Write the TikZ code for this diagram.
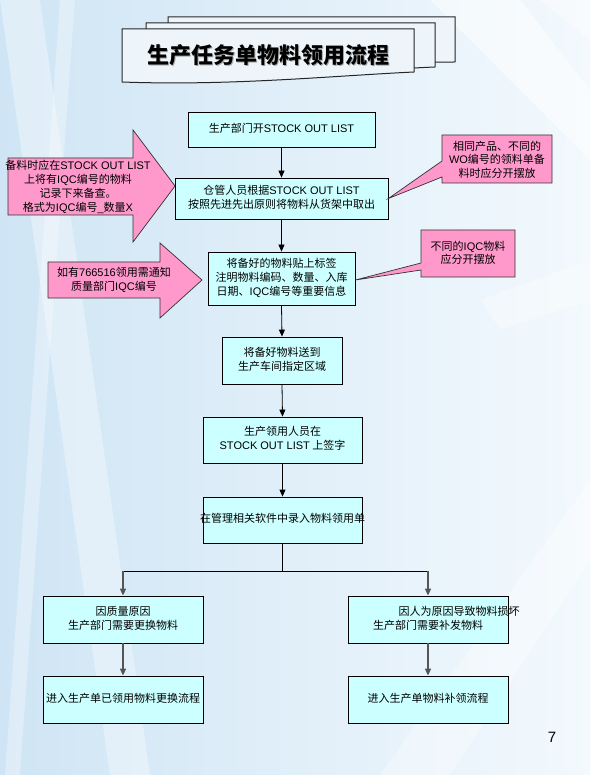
\documentclass[tikz,border=0pt]{standalone}
\usepackage{fontspec}
\setmainfont{Noto Sans CJK SC}
\newfontfamily\en{Liberation Sans}
\usetikzlibrary{arrows.meta}
\definecolor{boxc}{HTML}{CCFFFF}
\definecolor{pinkc}{HTML}{FF99CC}
\definecolor{bgl}{HTML}{CFE5F5}
\definecolor{bgr}{HTML}{F3F9FD}
\definecolor{titlef}{HTML}{EDF5FB}
\definecolor{grayline}{HTML}{555555}
\newcommand\ctext[1]{\makebox[0pt]{\begin{tabular}{@{}c@{}}#1\end{tabular}}}
\tikzset{
  stepbox/.style={draw=black, line width=0.8pt, fill=boxc, inner sep=0pt,
    minimum width=#1, font=\fontsize{11}{14}\selectfont},
  callout/.style={draw=black!80, line width=0.7pt, fill=pinkc},
  ctxt/.style={inner sep=0pt, align=center, font=\fontsize{11}{14}\selectfont},
  blackarrow/.style={draw=black, line width=0.8pt, -{Triangle[length=7pt,width=6pt]}},
  grayarrow/.style={draw=grayline, line width=1.4pt, -{Triangle[length=7pt,width=6pt]}},
  plainline/.style={draw=black, line width=0.8pt},
  titlebox/.style={draw=black!85, line width=1pt, fill=titlef}
}
\begin{document}
\begin{tikzpicture}[x=1pt,y=-1pt]
\useasboundingbox (0,0) rectangle (590,775);
% background
\shade[left color=bgl, right color=bgr] (0,0) rectangle (590,775);
\fill[white, opacity=0.35] (0,0) -- (40,0) -- (150,775) -- (110,775) -- cycle;
\fill[white, opacity=0.3] (60,0) -- (75,0) -- (20,775) -- (5,775) -- cycle;
\fill[white, opacity=0.5] (430,0) -- (520,0) -- (590,90) -- (590,160) -- cycle;
\fill[white, opacity=0.4] (540,0) -- (590,0) -- (590,40) -- cycle;
\fill[white, opacity=0.35] (380,775) -- (590,480) -- (590,560) -- (450,775) -- cycle;
\fill[white, opacity=0.3] (480,300) -- (590,260) -- (590,300) -- (500,330) -- cycle;

% title stack
\path[titlebox] (168,17) -- (455,17) -- (455,62) .. controls (380,62) and (250,75) .. (168,70) -- cycle;
\path[titlebox] (146,23) -- (435,23) -- (435,67) .. controls (360,70) and (250,82) .. (146,76) -- cycle;
\path[titlebox] (122,29) -- (414,29) -- (414,72) .. controls (330,76) and (230,86) .. (122,82) -- cycle;
\node[text=black!35, font=\fontsize{22}{26}\selectfont\bfseries] at (269.5,56.5) {生产任务单物料领用流程};
\node (title) [font=\fontsize{22}{26}\selectfont\bfseries] at (268,55) {生产任务单物料领用流程};

% main boxes
\node (b1) [stepbox=187pt, minimum height=35pt] at (281.5,129.5) {\ctext{生产部门开{\en STOCK OUT LIST}}};
\node (b2) [stepbox=213pt, minimum height=41pt] at (281.5,198.5) {\ctext{仓管人员根据{\en STOCK OUT LIST}\\按照先进先出原则将物料从货架中取出}};
\node (b3) [stepbox=147pt, minimum height=53pt] at (281.5,278.5) {\ctext{将备好的物料贴上标签\\注明物料编码、数量、入库\\日期、{\en IQC}编号等重要信息}};
\node (b4) [stepbox=120pt, minimum height=47pt] at (282,360.5) {\ctext{将备好物料送到\\生产车间指定区域}};
\node (b5) [stepbox=159pt, minimum height=46pt] at (282.5,440) {\ctext{生产领用人员在\\{\en STOCK OUT LIST} 上签字}};
\node (b6) [stepbox=159pt, minimum height=46pt] at (282.5,520) {\ctext{在管理相关软件中录入物料领用单}};
\node (b7) [stepbox=160pt, minimum height=47pt] at (123,619.5) {\ctext{因质量原因\\生产部门需要更换物料}};
\node (b8) [stepbox=160pt, minimum height=47pt] at (428,619.5) {\ctext{\hspace*{62pt}因人为原因导致物料损坏\\生产部门需要补发物料}};
\node (b9) [stepbox=160pt, minimum height=47pt] at (123,699.5) {\ctext{进入生产单已领用物料更换流程}};
\node (b10) [stepbox=160pt, minimum height=47pt] at (428,699.5) {\ctext{进入生产单物料补领流程}};

% connectors
\draw[blackarrow] (b1.south) -- (b2.north);
\draw[blackarrow] (b2.south) -- (b3.north);
\draw[blackarrow] (b3.south) -- (b4.north);
\draw[blackarrow] (b4.south) -- (b5.north);
\draw[blackarrow] (b5.south) -- (b6.north);
\coordinate (split) at (282.5,571);
\coordinate (sl) at (b7.north |- split);
\coordinate (sr) at (b8.north |- split);
\draw[plainline] (b6.south) -- (split);
\draw[plainline] (sl) -- (sr);
\draw[grayarrow] (sl) -- (b7.north);
\draw[grayarrow] (sr) -- (b8.north);
\draw[grayarrow] (b7.south) -- (b9.north);
\draw[grayarrow] (b8.south) -- (b10.north);

% left block arrows
\path[callout] (8,158) -- (133,158) -- (133,130) -- (175,186) -- (133,242) -- (133,215) -- (8,215) -- cycle;
\node (n1) [ctxt] at (78,186.5) {\makebox[0pt]{备料时应在{\en STOCK OUT LIST}}\\上将有{\en IQC}编号的物料\\记录下来备查。\\格式为{\en IQC}编号{\en \_}数量{\en X}};
\path[callout] (48,262) -- (160,262) -- (160,243) -- (202,280) -- (160,318) -- (160,298) -- (48,298) -- cycle;
\node (n2) [ctxt] at (114,280) {如有{\en 766516}领用需通知\\质量部门{\en IQC}编号};

% right callouts
\path[callout] (442,135) -- (552,135) -- (552,183) -- (442,183) -- (442,177) -- (b2.east) -- (442,161) -- cycle;
\node (n3) [ctxt, font=\fontsize{11}{13.5}\selectfont] at (497,159.5) {相同产品、不同的\\{\en WO}编号的领料单备\\料时应分开摆放};
\path[callout] (421,230) -- (515,230) -- (515,277) -- (421,277) -- (421,270) -- ([yshift=-1.5pt]b3.east) -- (421,263) -- cycle;
\node (n4) [ctxt, font=\fontsize{11}{12.5}\selectfont] at (468,253) {不同的{\en IQC}物料\\应分开摆放};

% page number
\node (pg) [font=\en\fontsize{15}{18}\selectfont] at (552,737) {7};
\end{tikzpicture}
\end{document}
